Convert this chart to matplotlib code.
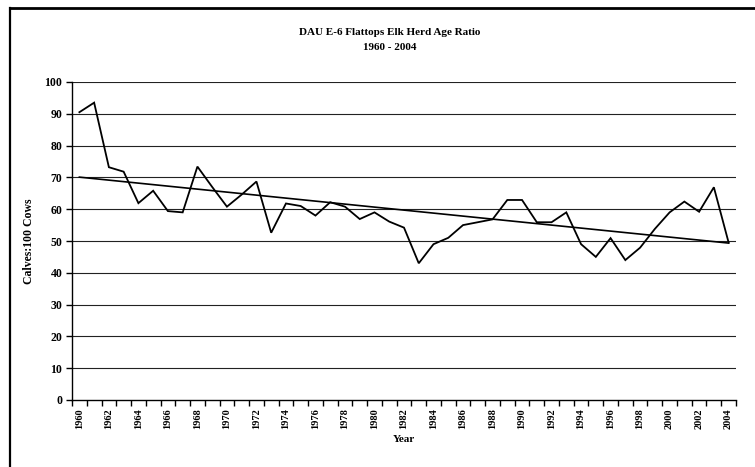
import numpy as np
import matplotlib
matplotlib.use("Agg")
import matplotlib.pyplot as plt
from matplotlib.lines import Line2D

years = list(range(1960, 2005))
ratios = [90.5, 93.5, 73.2, 71.8, 61.9, 65.8, 59.4, 59.0, 73.4, 67.0,
          60.8, 64.6, 68.7, 52.6, 61.8, 61.0, 58.0, 62.2, 60.8, 56.9,
          59.0, 56.1, 54.2, 43.0, 49.0, 51.0, 55.0, 55.9, 56.8, 62.9,
          62.9, 55.9, 55.9, 59.0, 49.0, 45.0, 50.9, 44.0, 47.9, 53.8,
          59.0, 62.4, 59.2, 66.9, 49.5]
yticks = list(range(0, 101, 10))

title = "DAU E-6 Flattops Elk Herd Age Ratio\n1960 - 2004"
ylabel = "Calves:100 Cows"
xlabel = "Year"

plt.rcParams['font.family'] = ['Liberation Serif', 'DejaVu Serif']
plt.rcParams['font.weight'] = 'bold'

fig = plt.figure(figsize=(7.55, 4.67), dpi=100)
ax = fig.add_axes([72/755, 1-400/467, (736-72)/755, (400-82)/467])

x = np.arange(len(years))
ax.plot(x, ratios, color='black', lw=1.3, solid_joinstyle='miter')
coef = np.polyfit(x, ratios, 1)
ax.plot(x, np.polyval(coef, x), color='black', lw=1.2)

ax.set_xlim(-0.5, len(years) - 0.5)
ax.set_ylim(0, 100)
ax.set_yticks(yticks)
ax.set_yticklabels([str(v) for v in yticks], fontsize=8.5, fontweight='bold')
for v in yticks[1:]:
    ax.axhline(v, color='#222222', lw=0.8, zorder=0)

ax.set_xticks(x[::2])
ax.set_xticklabels([str(y) for y in years[::2]], rotation=90, fontsize=7.5, fontweight='bold')
ax.set_xticks(np.arange(-0.5, len(years), 1), minor=True)
ax.tick_params(axis='x', which='major', length=0, pad=6)
ax.tick_params(axis='x', which='minor', length=4, width=1, direction='out')
ax.tick_params(axis='y', length=4, width=1, direction='out', pad=3)

for s in ['top', 'right']:
    ax.spines[s].set_visible(False)
for s in ['left', 'bottom']:
    ax.spines[s].set_linewidth(1.0)

ax.set_xlabel(xlabel, fontsize=8, fontweight='bold', labelpad=4)
ax.set_ylabel(ylabel, fontsize=8.5, fontweight='bold', labelpad=7)
fig.text(390/755, 1-40/467, title, ha='center', va='center', fontsize=8,
         fontweight='bold', linespacing=1.75)

# outer frame (top and left edges visible)
fig.add_artist(Line2D([10/755, 1.0], [1-8/467, 1-8/467], color='black', lw=2,
                      transform=fig.transFigure))
fig.add_artist(Line2D([10/755, 10/755], [0, 1-8/467], color='black', lw=1.6,
                      transform=fig.transFigure))

fig.savefig('out.png', dpi=100)
